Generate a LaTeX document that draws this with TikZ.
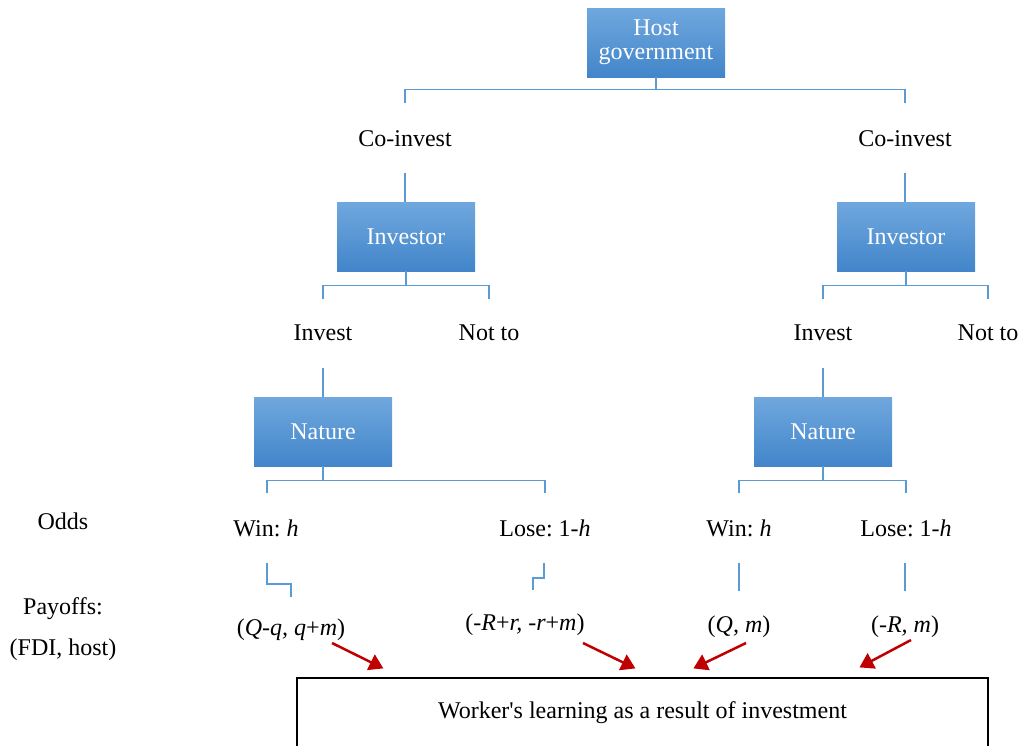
\documentclass[tikz,border=0pt]{standalone}
\usepackage{fontspec}
\setmainfont{Liberation Serif}
\usetikzlibrary{arrows.meta,calc}
\definecolor{connblue}{RGB}{91,155,213}
\definecolor{boxtop}{RGB}{112,168,222}
\definecolor{boxbot}{RGB}{66,133,202}
\definecolor{darkred}{RGB}{192,0,0}
\frenchspacing
\begin{document}
\begin{tikzpicture}[x=1pt,y=-1pt,
  every node/.style={font=\fontsize{24}{23.5}\selectfont, inner sep=0pt},
  bluebox/.style={top color=boxtop, bottom color=boxbot, text=white, minimum width=138pt, minimum height=69pt, align=center},
  link/.style={draw=connblue, line width=1.4pt},
  redarrow/.style={draw=darkred, line width=2.5pt, -{Triangle[length=14pt,width=17pt]}, fill=darkred}]
\useasboundingbox (0,0) rectangle (1022,745);
\clip (0,0) rectangle (1022,745);

% blue decision boxes
\node[bluebox, text depth=6pt] (host) at (656,42.5) {Host\\government};
\node[bluebox] (inv1) at (406,236.5) {Investor};
\node[bluebox] (inv2) at (906,236.5) {Investor};
\node[bluebox] (nat1) at (323,431.5) {Nature};
\node[bluebox] (nat2) at (823,431.5) {Nature};

% labels
\node (ci1) at (405,139) {Co-invest};
\node (ci2) at (905,139) {Co-invest};
\node (in1) at (323,333) {Invest};
\node (nt1) at (489,333) {Not to};
\node (in2) at (823,333) {Invest};
\node (nt2) at (988,333) {Not to};
\node (w1) at (266,528) {Win: \textit{h}};
\node (l1) at (545,528) {Lose: 1-\textit{h}};
\node (w2) at (739,528) {Win: \textit{h}};
\node (l2) at (906,528) {Lose: 1-\textit{h}};
\node (p1) at (291,630) {(\textit{Q-q, q}+\textit{m})};
\node (p2) at (525,625) {(-\textit{R}+\textit{r, -r}+\textit{m})};
\node (p3) at (739,627) {(\textit{Q, m})};
\node (p4) at (905,627) {(-\textit{R, m})};
\node (odds) at (63,521) {Odds};
\node (pay) at (63,609) {Payoffs:};
\node (fdi) at (63,650) {(FDI, host)};

% host fork
\draw[link] (host.south) -- ++(0,12.5) coordinate (hj);
\draw[link] ([yshift=36pt]ci1.center) |- (hj) -| ([yshift=36pt]ci2.center);
% co-invest to investor
\draw[link] ([yshift=-34pt]ci1.center) -- (ci1.center |- inv1.north);
\draw[link] ([yshift=-34pt]ci2.center) -- (ci2.center |- inv2.north);
% investor forks
\draw[link] (inv1.south) -- ++(0,14) coordinate (ij1);
\draw[link] ([yshift=34pt]in1.center) |- (ij1) -| ([yshift=34pt]nt1.center);
\draw[link] (inv2.south) -- ++(0,14) coordinate (ij2);
\draw[link] ([yshift=34pt]in2.center) |- (ij2) -| ([yshift=34pt]nt2.center);
% invest to nature
\draw[link] ([yshift=-35pt]in1.center) -- (nat1.north);
\draw[link] ([yshift=-35pt]in2.center) -- (nat2.north);
% nature forks
\draw[link] (nat1.south) -- ++(0,14) coordinate (nj1);
\draw[link] ([xshift=1pt,yshift=35pt]w1.center) |- (nj1) -| ([yshift=35pt]l1.center);
\draw[link] (nat2.south) -- ++(0,14) coordinate (nj2);
\draw[link] ([yshift=35pt]w2.center) |- (nj2) -| ([yshift=35pt]l2.center);
% outcomes to payoffs
\draw[link] ([xshift=1pt,yshift=-35pt]w1.center) -- ++(0,21) -| ([yshift=33pt]p1.center);
\draw[link] ([xshift=-1pt,yshift=-35pt]l1.center) -- ++(0,15) -| ([xshift=8pt,yshift=35pt]p2.center);
\draw[link] ([yshift=-35pt]w2.center) -- ([yshift=36pt]p3.center);
\draw[link] ([xshift=-1pt,yshift=-35pt]l2.center) -- ([xshift=0pt,yshift=36pt]p4.center);

% learning box
\node[draw, line width=1.2pt, minimum width=691pt, minimum height=70pt] (wl) at (642.5,713) {Worker\textquotesingle s learning as a result of investment};

% red arrows
\draw[redarrow] ($(p1.center)+(41,13)$) -- ($(wl.north west)+(87,-9)$);
\draw[redarrow] ($(p2.center)+(58,18)$) -- ($(wl.north west)+(339,-9)$);
\draw[redarrow] ($(p3.center)+(7,16)$) -- ($(wl.north west)+(397,-9)$);
\draw[redarrow] ($(p4.center)+(6,13)$) -- ($(wl.north west)+(563,-10)$);
\end{tikzpicture}
\end{document}
